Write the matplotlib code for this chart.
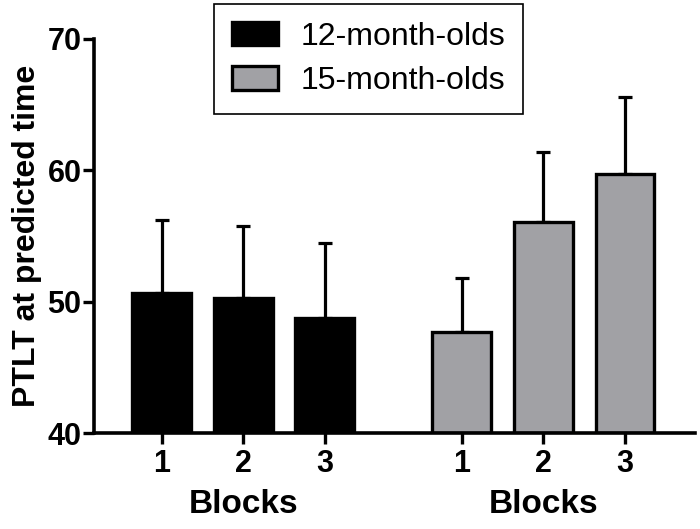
import matplotlib.pyplot as plt
import numpy as np
from matplotlib.patches import FancyBboxPatch
from matplotlib.legend_handler import HandlerPatch

plt.rcParams['font.family'] = ['Liberation Sans', 'DejaVu Sans']

# données
blocks = ['1', '2', '3']
groups = ['12-month-olds', '15-month-olds']
means_12 = [50.7, 50.3, 48.8]
err_12 = [5.5, 5.5, 5.7]
means_15 = [47.7, 56.1, 59.7]
err_15 = [4.1, 5.3, 5.9]

colors = ['#000000', '#a1a1a5']

fig = plt.figure(figsize=(7, 5.29), dpi=100)
ax = fig.add_axes([94 / 700, 1 - 433.3 / 529, (695 - 94) / 700, (433.3 - 39) / 529])

pos_12 = np.arange(3)
pos_15 = np.arange(3) + 3.68
width = 0.72

for pos, means, errs, col, lab in [(pos_12, means_12, err_12, colors[0], groups[0]),
                                   (pos_15, means_15, err_15, colors[1], groups[1])]:
    ax.bar(pos, np.array(means) - 40, width, bottom=40, color=col, edgecolor='black',
           linewidth=2.4, label=lab, zorder=2)
    ax.errorbar(pos, means, yerr=[np.zeros(3), errs], fmt='none', ecolor='black',
                elinewidth=2.3, capsize=5, capthick=2.3, zorder=1)

ax.set_ylim(40, 70)
ax.set_xlim(-0.83, 6.54)
ax.set_yticks([40, 50, 60, 70])
ax.set_xticks(list(pos_12) + list(pos_15))
ax.set_xticklabels(blocks + blocks)

for s in ['top', 'right']:
    ax.spines[s].set_visible(False)
for s in ['left', 'bottom']:
    ax.spines[s].set_linewidth(2.6)

ax.tick_params(axis='both', width=2.4, length=8, labelsize=22, direction='out')
ax.tick_params(axis='x', pad=3)
ax.tick_params(axis='y', pad=1)
for lbl in ax.get_xticklabels() + ax.get_yticklabels():
    lbl.set_fontweight('bold')

ax.set_ylabel('PTLT at predicted time', fontsize=23, fontweight='bold', labelpad=4)

for pos in [pos_12, pos_15]:
    ax.text(pos.mean(), -0.18, 'Blocks', transform=ax.get_xaxis_transform(),
            ha='center', va='center', fontsize=24, fontweight='bold')


# poignées de légende arrondies
def rounded_patch(legend, orig_handle, xdescent, ydescent, width, height, fontsize):
    return FancyBboxPatch((-xdescent, -ydescent), width, height,
                          boxstyle='round,pad=0,rounding_size=4')


leg = ax.legend(loc='upper left', bbox_to_anchor=(214 / 700, 1 - 4 / 529),
                bbox_transform=fig.transFigure, borderaxespad=0, fancybox=False,
                edgecolor='black', fontsize=23, handlelength=1.45, handleheight=0.75,
                borderpad=0.55, labelspacing=0.45, handletextpad=0.7,
                handler_map={plt.Rectangle: HandlerPatch(patch_func=rounded_patch)})
leg.get_frame().set_linewidth(1.2)
leg.get_frame().set_alpha(1)

fig.savefig('out.png', dpi=100)
